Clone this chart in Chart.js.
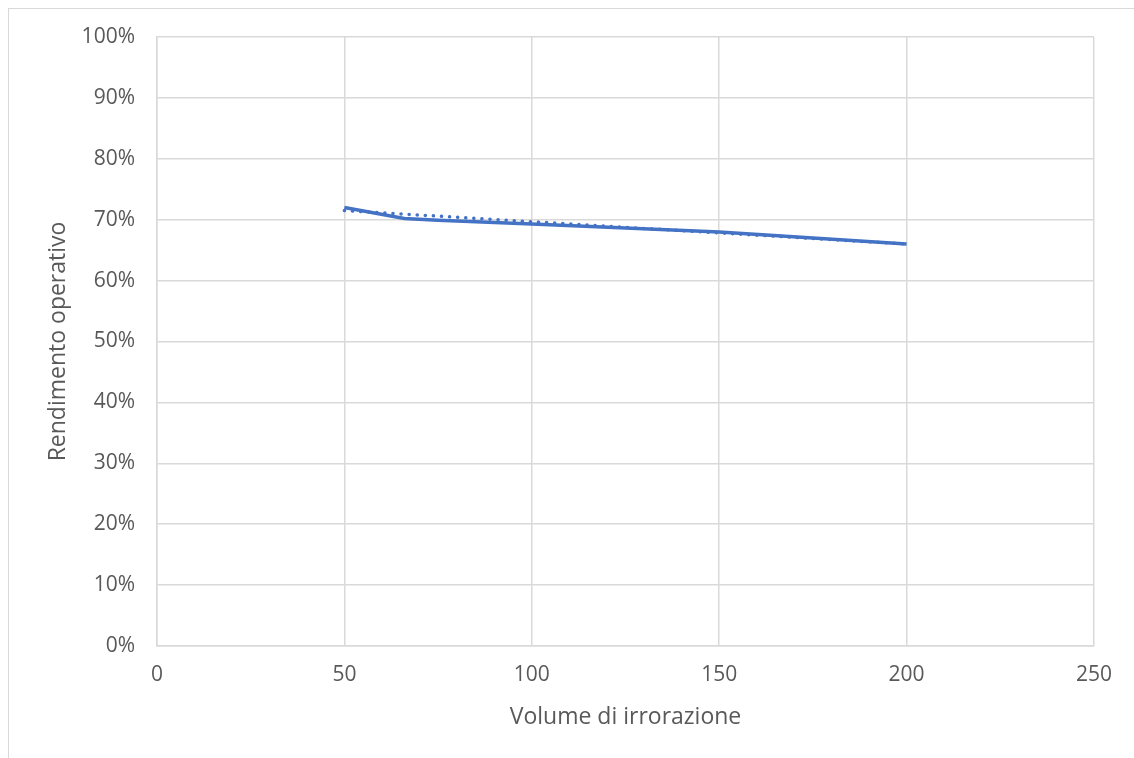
<!DOCTYPE html>
<html>
<head>
<meta charset="utf-8">
<script src="https://cdn.jsdelivr.net/npm/chart.js@4/dist/chart.umd.min.js"></script>
<style>
  html, body { margin: 0; padding: 0; background: #fff; }
  #frame {
    position: absolute; left: 8px; top: 8px; width: 1200px; height: 800px;
    border-top: 1.5px solid #d9d9d9; border-left: 1.5px solid #d9d9d9;
  }
  #wrap { position: absolute; left: 0; top: 0; width: 1134px; height: 758px; }
</style>
</head>
<body>
<div id="frame"></div>
<div id="wrap"><canvas id="chart"></canvas></div>
<script>
// measured series (volume, rendimento %)
var volumes = [50, 66, 75, 100, 150, 200];
var rendimento = [72.0, 70.2, 69.9, 69.3, 68.0, 66.0];

// linear trend line endpoints
var trendX = [50, 200];
var trendY = [71.5, 66.0];

var xTicks = [0, 50, 100, 150, 200, 250];

var blue = '#4472C4';
var gridColor = '#d9d9d9';
var textColor = '#595959';
var fontFamily = '"Open Sans", sans-serif';

function toPoints(xs, ys) {
  return xs.map(function (x, i) { return { x: x, y: ys[i] / 100 }; });
}

var data = {
  datasets: [{
    label: 'Rendimento',
    data: toPoints(volumes, rendimento),
    borderColor: blue,
    borderWidth: 3.5,
    pointRadius: 0,
    showLine: true,
    tension: 0,
    order: 1
  }, {
    label: 'Tendenza',
    data: toPoints(trendX, trendY),
    borderColor: blue,
    borderWidth: 3.5,
    borderDash: [0.1, 8],
    borderCapStyle: 'round',
    pointRadius: 0,
    showLine: true,
    order: 2
  }]
};

var options = {
  responsive: true,
  maintainAspectRatio: false,
  animation: false,
  layout: { padding: { top: 37, right: 40, left: 0, bottom: 0 } },
  scales: {
    x: {
      type: 'linear',
      min: 0,
      max: 250,
      afterBuildTicks: function (s) { s.ticks = xTicks.map(function (v) { return { value: v }; }); },
      afterFit: function (s) { s.height = 112; },
      grid: { color: gridColor, lineWidth: 1.5, drawTicks: false },
      border: { color: gridColor, width: 1.5 },
      ticks: { color: textColor, font: { family: fontFamily, size: 21 }, padding: 16 },
      title: {
        display: true, text: 'Volume di irrorazione', color: textColor,
        font: { family: fontFamily, size: 23 }, padding: { top: 0, bottom: 27 }
      }
    },
    y: {
      min: 0,
      max: 1,
      afterFit: function (s) { s.width = 157; },
      grid: { color: gridColor, lineWidth: 1.5, drawTicks: false },
      border: { color: gridColor, width: 1.5 },
      ticks: {
        stepSize: 0.1,
        color: textColor,
        font: { family: fontFamily, size: 21 },
        padding: 22,
        callback: function (v) { return Math.round(v * 100) + '%'; }
      },
      title: {
        display: true, text: 'Rendimento operativo', color: textColor,
        font: { family: fontFamily, size: 23 }, padding: { top: 45, bottom: 0 }
      }
    }
  },
  plugins: {
    legend: { display: false },
    tooltip: { enabled: false }
  }
};

var ctx = document.getElementById('chart').getContext('2d');
var chart = new Chart(ctx, { type: 'scatter', data: data, options: options });
</script>
</body>
</html>
